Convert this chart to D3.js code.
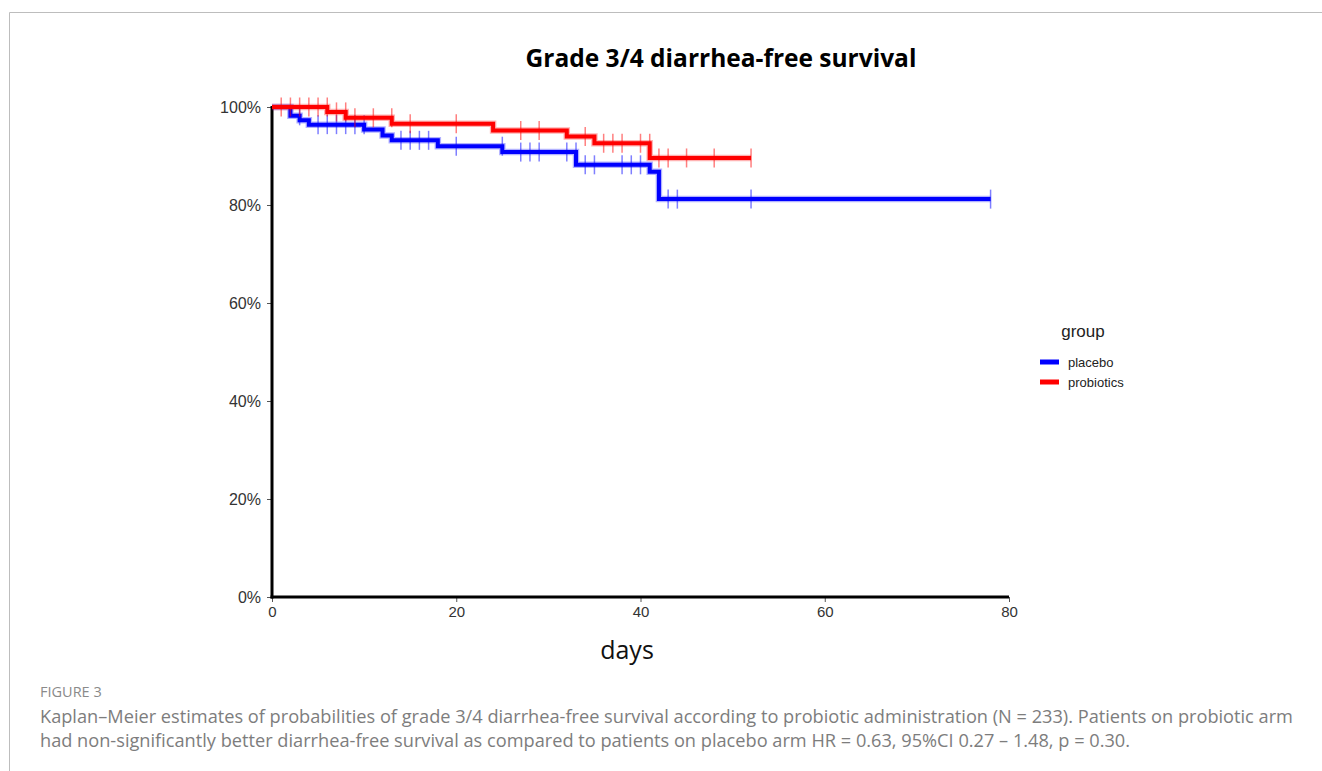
<!DOCTYPE html>
<html>
<head>
<meta charset="utf-8">
<script src="https://cdn.jsdelivr.net/npm/d3@7"></script>
<style>
  body { margin: 0; background: #fff; }
  svg { display: block; }
</style>
</head>
<body>
<div id="chart"></div>
<script>
// Kaplan-Meier step data (days, survival %)
const groups = ["placebo", "probiotics"];
const placeboTimes = [0, 2, 3, 4, 10, 12, 13, 18, 25, 33, 41, 42];
const placeboSurv = [100, 98.2, 97.3, 96.4, 95.4, 94.2, 93.2, 92.0, 90.8, 88.2, 86.8, 81.2];
const placeboEnd = 78;
const placeboCensor = [3, 5, 6, 7, 8, 9, 10, 14, 15, 16, 17, 20, 25, 27, 28, 29, 32, 33, 34, 35, 38, 39, 40, 43, 44, 52, 78];

const probioticTimes = [0, 6, 8, 13, 24, 32, 35, 41];
const probioticSurv = [100, 99.0, 97.8, 96.6, 95.2, 94.0, 92.6, 89.6];
const probioticEnd = 52;
const probioticCensor = [1, 2, 3, 4, 5, 6, 7, 8, 9, 11, 13, 15, 20, 27, 29, 34, 36, 37, 38, 40, 41, 42, 43, 45, 48, 52];

const xTicks = [0, 20, 40, 60, 80];
const yTicks = [0, 20, 40, 60, 80, 100];

const width = 1322, height = 771;
const BLUE = "#0000ff", RED = "#ff0000";

const svg = d3.select("#chart").append("svg")
    .attr("width", width)
    .attr("height", height);

// page frame
svg.append("line").attr("x1", 9.5).attr("y1", 12.5).attr("x2", width).attr("y2", 12.5)
    .attr("stroke", "#bdbdbd").attr("stroke-width", 1);
svg.append("line").attr("x1", 9.5).attr("y1", 12.5).attr("x2", 9.5).attr("y2", height)
    .attr("stroke", "#bdbdbd").attr("stroke-width", 1);

const x = d3.scaleLinear().domain([0, 80]).range([272, 1009]);
const y = d3.scaleLinear().domain([0, 100]).range([597, 107]);

// title
svg.append("text")
    .attr("x", 721).attr("y", 67)
    .attr("text-anchor", "middle")
    .attr("font-family", "Open Sans, sans-serif")
    .attr("font-weight", "bold")
    .attr("font-size", "24.5px")
    .attr("fill", "#000")
    .text("Grade 3/4 diarrhea-free survival");

// axes
const yAxis = svg.append("g").attr("transform", `translate(${x(0)},0)`)
    .call(d3.axisLeft(y).tickValues(yTicks).tickSize(5).tickPadding(6).tickFormat(d => d + "%"));
const xAxis = svg.append("g").attr("transform", `translate(0,${y(0)})`)
    .call(d3.axisBottom(x).tickValues(xTicks).tickSize(5).tickPadding(4));

[yAxis, xAxis].forEach(a => {
    a.select(".domain").remove();
    a.selectAll(".tick line").attr("stroke", "#555").attr("stroke-width", 1);
    a.selectAll(".tick text")
        .attr("font-family", "Arial, Liberation Sans, sans-serif")
        .attr("font-size", "15px")
        .attr("fill", "#333");
});
yAxis.selectAll(".tick text").attr("font-size", "16px");

svg.append("line").attr("x1", x(0)).attr("x2", x(0)).attr("y1", y(100) - 1).attr("y2", y(0) + 1.5)
    .attr("stroke", "#000").attr("stroke-width", 3);
svg.append("line").attr("x1", x(0) - 1.5).attr("x2", x(80)).attr("y1", y(0)).attr("y2", y(0))
    .attr("stroke", "#000").attr("stroke-width", 3);

svg.append("text")
    .attr("x", 627).attr("y", 659)
    .attr("text-anchor", "middle")
    .attr("font-family", "Open Sans, sans-serif")
    .attr("font-size", "25px")
    .attr("fill", "#111")
    .text("days");

// curves
function stepPoints(times, surv, end) {
    const pts = times.map((t, i) => [t, surv[i]]);
    pts.push([end, surv[surv.length - 1]]);
    return pts;
}
function survAt(times, surv, t) {
    const i = d3.bisectLeft(times, t);
    return surv[Math.max(0, i - 1)];
}

const series = [
    { name: "placebo", color: BLUE, times: placeboTimes, surv: placeboSurv, end: placeboEnd, censor: placeboCensor },
    { name: "probiotics", color: RED, times: probioticTimes, surv: probioticSurv, end: probioticEnd, censor: probioticCensor }
];

const line = d3.line().x(d => x(d[0])).y(d => y(d[1])).curve(d3.curveStepAfter);

series.forEach(s => {
    const pts = stepPoints(s.times, s.surv, s.end);
    svg.append("path").datum(pts)
        .attr("fill", "none").attr("stroke", s.color).attr("stroke-opacity", 0.3)
        .attr("stroke-width", 6.5).attr("d", line);
    svg.append("path").datum(pts)
        .attr("fill", "none").attr("stroke", s.color)
        .attr("stroke-width", 4).attr("d", line);
    svg.append("g").selectAll("line").data(s.censor).join("line")
        .attr("x1", d => x(d)).attr("x2", d => x(d))
        .attr("y1", d => y(survAt(s.times, s.surv, d)) - 9.5)
        .attr("y2", d => y(survAt(s.times, s.surv, d)) + 9.5)
        .attr("stroke", s.color).attr("stroke-opacity", 0.5).attr("stroke-width", 1.5);
});

// legend
const legend = svg.append("g");
legend.append("text")
    .attr("x", 1083).attr("y", 337)
    .attr("text-anchor", "middle")
    .attr("font-family", "Arial, Liberation Sans, sans-serif")
    .attr("font-size", "17px")
    .attr("fill", "#222")
    .text("group");
groups.forEach((g, i) => {
    const s = series.find(d => d.name === g);
    legend.append("line")
        .attr("x1", 1040).attr("x2", 1059)
        .attr("y1", 362 + i * 20).attr("y2", 362 + i * 20)
        .attr("stroke", s.color).attr("stroke-width", 5);
    legend.append("text")
        .attr("x", 1068).attr("y", 366.5 + i * 20)
        .attr("font-family", "Arial, Liberation Sans, sans-serif")
        .attr("font-size", "13px")
        .attr("fill", "#222")
        .text(g);
});

// caption
svg.append("text")
    .attr("x", 40).attr("y", 697)
    .attr("font-family", "Open Sans, sans-serif")
    .attr("font-size", "14.5px")
    .attr("fill", "#8a8a8a")
    .text("FIGURE 3");
const captionLines = [
    "Kaplan\u2013Meier estimates of probabilities of grade 3/4 diarrhea-free survival according to probiotic administration (N = 233). Patients on probiotic arm",
    "had non-significantly better diarrhea-free survival as compared to patients on placebo arm HR = 0.63, 95%CI 0.27 \u2013 1.48, p = 0.30."
];
svg.append("g").selectAll("text").data(captionLines).join("text")
    .attr("x", 40).attr("y", (d, i) => 723 + i * 24)
    .attr("font-family", "Open Sans, sans-serif")
    .attr("font-size", "18.2px")
    .attr("fill", "#7d7d7d")
    .text(d => d);
</script>
</body>
</html>
